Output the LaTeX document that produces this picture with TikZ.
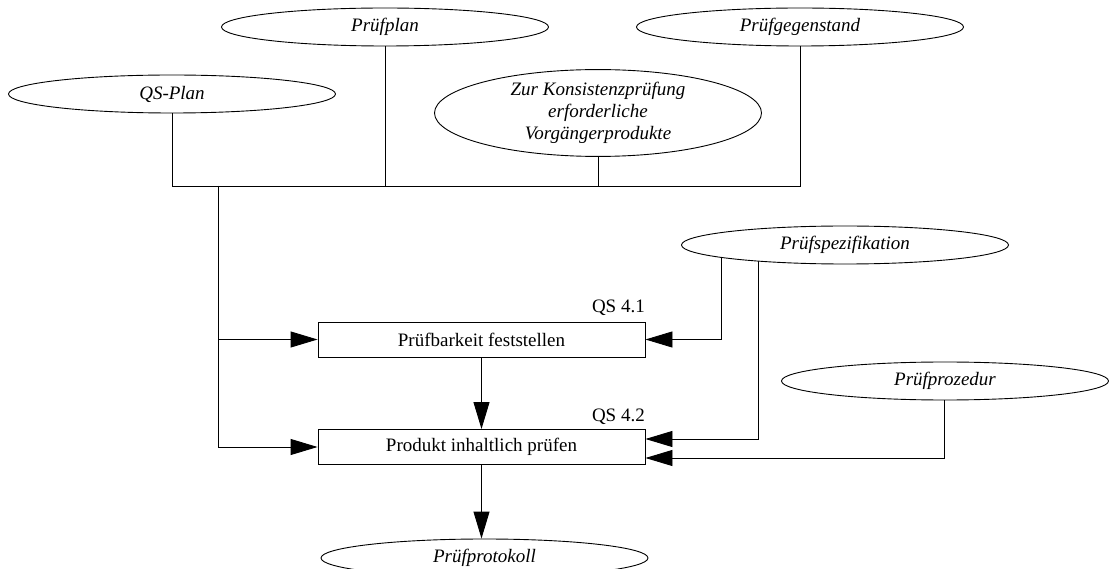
\documentclass[tikz,border=0pt]{standalone}
\usepackage{fontspec}
\setmainfont{Liberation Serif}
\usetikzlibrary{shapes.geometric,arrows.meta,backgrounds}
\begin{document}
\begin{tikzpicture}[x=1pt,y=-1pt,
  every node/.style={font=\fontsize{19}{22}\selectfont},
  artefact/.style={ellipse,draw,fill=white,line width=0.9pt,inner sep=0pt,
    minimum width=327pt,minimum height=38pt,font=\fontsize{19}{22}\selectfont\itshape,align=center},
  activity/.style={rectangle,draw,fill=white,line width=0.9pt,inner sep=0pt,
    minimum width=327pt,minimum height=35pt},
  tag/.style={anchor=base east,inner sep=0pt},
  link/.style={line width=0.9pt},
  flow/.style={link,-{Triangle[length=27pt,width=16pt]}}]
\useasboundingbox (0,0) rectangle (1109,569);

% input artefacts
\node[artefact] (pplan) at (385,27) {Prüfplan};
\node[artefact] (pgegen) at (800,27) {Prüfgegenstand};
\node[artefact] (qsplan) at (172,94) {QS-Plan};
\node[artefact,minimum height=85pt] (konsis) at (598,113)
  {Zur Konsistenzprüfung\\erforderliche\\Vorgängerprodukte};
\node[artefact] (spez) at (845,245) {Prüfspezifikation};
\node[artefact] (proz) at (945,381) {Prüfprozedur};

% activities
\node[activity] (pruefbar) at (481.5,339.5) {Prüfbarkeit feststellen};
\node[activity] (pruefen) at (481.5,447) {Produkt inhaltlich prüfen};
\node[tag] (qsA) at (645,313) {QS 4.1};
\node[tag] (qsB) at (645,421) {QS 4.2};

% output artefact
\node[artefact] (protokoll) at (484.5,558) {Prüfprotokoll};

\begin{scope}[on background layer]
  \fill[white] (0,0) rectangle (1109,569);
  % collecting bus of the upper artefacts
  \coordinate (busL) at (qsplan.center |- 0,186);
  \coordinate (busR) at (pgegen.center |- 0,186);
  \coordinate (feed) at (218.5,186);
  \draw[link] (qsplan.center) -- (busL) -- (busR) -- (pgegen.center);
  \draw[link] (pplan.center) -- (pplan.center |- busL);
  \draw[link] (konsis.center) -- (konsis.center |- busL);
  \draw[flow] (feed) |- (pruefbar.west);
  \draw[flow] (feed) |- (pruefen.west);

  % specification and procedure
  \draw[flow] ([xshift=-124pt]spez.center) |- (pruefbar.east);
  \draw[flow] ([xshift=-87pt]spez.center) |- ([yshift=8pt]pruefen.east);
  \draw[flow] ([xshift=-1pt]proz.center) |- ([yshift=-11pt]pruefen.east);
\end{scope}

% activity sequence
\draw[flow] (pruefbar.south) -- (pruefen.north);
\draw[flow] (pruefen.south) -- (pruefen.south |- protokoll.north);
\end{tikzpicture}
\end{document}
